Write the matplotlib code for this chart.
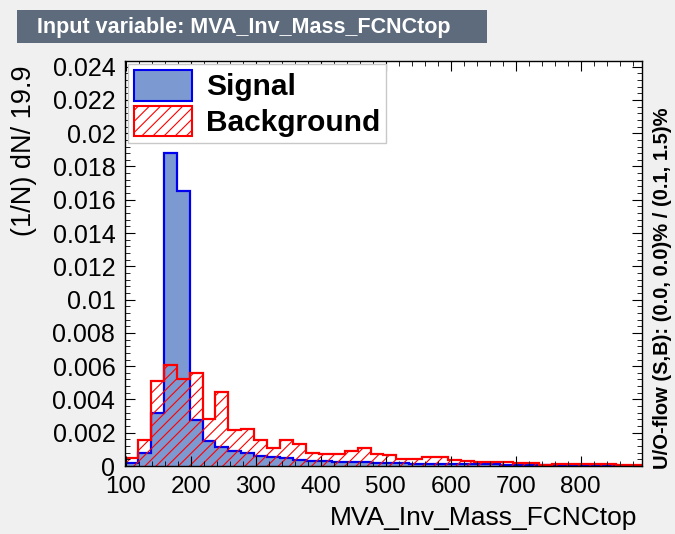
import numpy as np
import matplotlib
matplotlib.use('Agg')
from matplotlib import pyplot as plt
from matplotlib.patches import Patch, Rectangle
from matplotlib.ticker import MultipleLocator, FuncFormatter

plt.rcParams['font.family'] = ['Liberation Sans', 'DejaVu Sans']
plt.rcParams['hatch.linewidth'] = 0.8

# histogram binning (40 bins of width 19.9)
x_min = 98.5
bin_w = 19.9
n_bins = 40

signal = [0.00017, 0.0008, 0.0032, 0.0188, 0.0165, 0.00275, 0.0015, 0.00117,
          0.0009, 0.00077, 0.0006, 0.00052, 0.00046, 0.00038, 0.0003, 0.00028,
          0.00026, 0.00024, 0.00022, 0.0002, 0.00018, 0.00016, 0.00015, 0.00014,
          0.00013, 0.00012, 0.00011, 0.0001, 0.0001, 0.00009, 0.00008, 0.00007,
          0.00004, 0.00002, 0.00001, 0.00001, 0.00001, 0.00001, 0.0, 0.0]
background = [0.0005, 0.00157, 0.00508, 0.00604, 0.00525, 0.00556, 0.00285, 0.00443,
              0.00217, 0.00223, 0.00159, 0.0011, 0.00159, 0.0013, 0.0008, 0.00074,
              0.00072, 0.00089, 0.00111, 0.0007, 0.00066, 0.0004, 0.0004, 0.00056,
              0.00056, 0.00036, 0.0003, 0.00025, 0.00025, 0.00025, 0.00016, 0.00016,
              0.00006, 0.00012, 0.0001, 0.0001, 0.0001, 0.00014, 0.00006, 0.00006]

edges = x_min + bin_w * np.arange(n_bins + 1)

sig_fill = '#7d99d1'
sig_line = '#0000ee'
bkg_col = '#ff0000'

fig = plt.figure(figsize=(6.75, 5.34), dpi=100)
fig.patch.set_facecolor('#f0f0f0')

# title box
fig.patches.append(Rectangle((17 / 675, 1 - 43 / 534), 470 / 675, 33 / 534,
                             transform=fig.transFigure, facecolor='#5d6b7d',
                             edgecolor='none'))
fig.text(37 / 675, 1 - 27 / 534, 'Input variable: MVA_Inv_Mass_FCNCtop',
         color='white', fontsize=15.5, fontweight='bold', va='center', ha='left')

ax = fig.add_axes([125 / 675, 1 - 466 / 534, 517 / 675, 405 / 534])
ax.set_facecolor('white')

ax.stairs(signal, edges, fill=True, facecolor=sig_fill, edgecolor='none')
ax.stairs(signal, edges, color=sig_line, lw=1.6)
ax.stairs(background, edges, fill=True, facecolor='none', edgecolor=bkg_col,
          hatch='///', linewidth=0)
ax.stairs(background, edges, color=bkg_col, lw=1.6)

ax.set_xlim(edges[0], edges[-1])
ax.set_ylim(0, 0.02434)

ax.xaxis.set_major_locator(MultipleLocator(100))
ax.xaxis.set_minor_locator(MultipleLocator(20))
ax.yaxis.set_major_locator(MultipleLocator(0.002))
ax.yaxis.set_minor_locator(MultipleLocator(0.0004))
ax.yaxis.set_major_formatter(FuncFormatter(lambda v, p: '%g' % round(v, 4)))
ax.tick_params(which='both', direction='in', top=True, right=True)
ax.tick_params(axis='x', pad=7, labelsize=17.5)
ax.tick_params(axis='y', pad=7, labelsize=18)
ax.tick_params(which='major', length=7)
ax.tick_params(which='minor', length=3.5)
for s in ax.spines.values():
    s.set_linewidth(1)

ax.set_xlabel('MVA_Inv_Mass_FCNCtop', fontsize=19, loc='right')
ax.xaxis.set_label_coords(1 - 5 / 517, -0.1)
ax.set_ylabel('(1/N) dN/ 19.9', fontsize=19.5, loc='top')
ax.yaxis.set_label_coords(-0.17, 1 - 4 / 405)

handles = [Patch(facecolor=sig_fill, edgecolor=sig_line, lw=1.5),
           Patch(facecolor='white', edgecolor=bkg_col, hatch='///', lw=1.5)]
leg = ax.legend(handles, ['Signal', 'Background'], loc='upper left',
                bbox_to_anchor=(0.0, 1.0), prop={'weight': 'bold', 'size': 21.5},
                handlelength=1.95, handleheight=1.2, handletextpad=0.45,
                labelspacing=0.15, borderpad=0.2, borderaxespad=0.1,
                frameon=True, fancybox=False, framealpha=1)
leg.get_frame().set_edgecolor('#c8c8c8')
leg.get_frame().set_linewidth(1)

fig.text(662 / 675, 1 - 288 / 534, 'U/O-flow (S,B): (0.0, 0.0)% / (0.1, 1.5)%',
         rotation=90, fontsize=14.5, fontweight='bold', va='center', ha='center')

fig.savefig('out.png', dpi=100, facecolor=fig.get_facecolor())
